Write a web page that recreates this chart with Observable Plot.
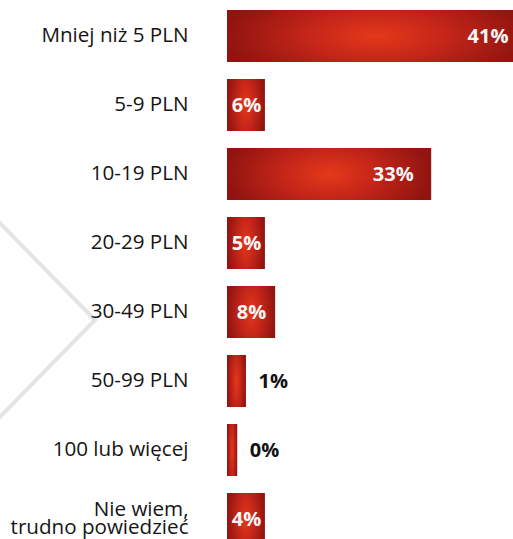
<!DOCTYPE html>
<html>
<head>
<meta charset="utf-8">
<script src="https://cdn.jsdelivr.net/npm/d3@7"></script>
<script src="https://cdn.jsdelivr.net/npm/@observablehq/plot@0.6"></script>
<style>
  html, body { margin: 0; padding: 0; background: #fff; }
  #chart { width: 513px; height: 539px; overflow: hidden; }
</style>
</head>
<body>
<div id="chart"></div>
<script>
// Categories (top to bottom)
const categories = [
  "Mniej niż 5 PLN",
  "5-9 PLN",
  "10-19 PLN",
  "20-29 PLN",
  "30-49 PLN",
  "50-99 PLN",
  "100 lub więcej",
  "Nie wiem,\ntrudno powiedzieć"
];
// Printed percentages
const shares = [41, 6, 33, 5, 8, 1, 0, 4];
// Bar lengths as drawn in the picture (same units)
const barLengths = [41, 5.2, 28.0, 5.2, 6.6, 2.6, 1.4, 5.2];
// Decorative watermark chevron (page pixels)
const watermarkPts = [[-10, 213], [95, 320], [-10, 427]];

const data = categories.map((c, i) => ({label: c, value: shares[i], len: barLengths[i], text: shares[i] + "%"}));

const gradientDefs = () => {
  const defs = d3.create("svg:defs");
  const g = defs.append("radialGradient")
    .attr("id", "barGrad")
    .attr("cx", 0.5).attr("cy", 0.5).attr("r", 0.5)
    .attr("gradientTransform", "translate(0.5,0.5) scale(1,2) translate(-0.5,-0.5)");
  g.append("stop").attr("offset", "0%").attr("stop-color", "#e4391a");
  g.append("stop").attr("offset", "45%").attr("stop-color", "#c52619");
  g.append("stop").attr("offset", "100%").attr("stop-color", "#921410");
  return defs.node();
};

const watermark = () => {
  const p = d3.create("svg:path")
    .attr("d", d3.line()(watermarkPts))
    .attr("fill", "none")
    .attr("stroke", "#e4e4e4")
    .attr("stroke-width", 4);
  return p.node();
};

const chart = Plot.plot({
  width: 513,
  height: 539,
  margin: 0,
  style: {fontFamily: "'Open Sans', sans-serif", background: "#fff", overflow: "hidden"},
  x: {domain: [0, 41], range: [227, 526], axis: null},
  y: {domain: categories, range: [10, 545], paddingInner: 17 / 69, paddingOuter: 0, axis: null},
  marks: [
    gradientDefs,
    watermark,
    Plot.barX(data, {x: "len", y: "label", fill: "url(#barGrad)"}),
    Plot.text(data, {
      x: 0, y: "label", text: "label", textAnchor: "end", dx: -39,
      fontSize: 20.6, lineHeight: 0.83, fill: "#151515"
    }),
    Plot.text(data.filter(d => d.value >= 20), {
      x: "len", y: "label", text: "text", textAnchor: "end", dx: -18,
      fontSize: 20, fontWeight: "bold", fill: "#f7f7f7"
    }),
    Plot.text(data.filter(d => d.value >= 4 && d.value < 20), {
      x: d => d.len / 2, y: "label", text: "text", textAnchor: "middle",
      fontSize: 20, fontWeight: "bold", fill: "#f7f7f7"
    }),
    Plot.text(data.filter(d => d.value < 4), {
      x: "len", y: "label", text: "text", textAnchor: "start", dx: 12,
      fontSize: 20, fontWeight: "bold", fill: "#111"
    })
  ]
});
document.getElementById("chart").appendChild(chart);
</script>
</body>
</html>
